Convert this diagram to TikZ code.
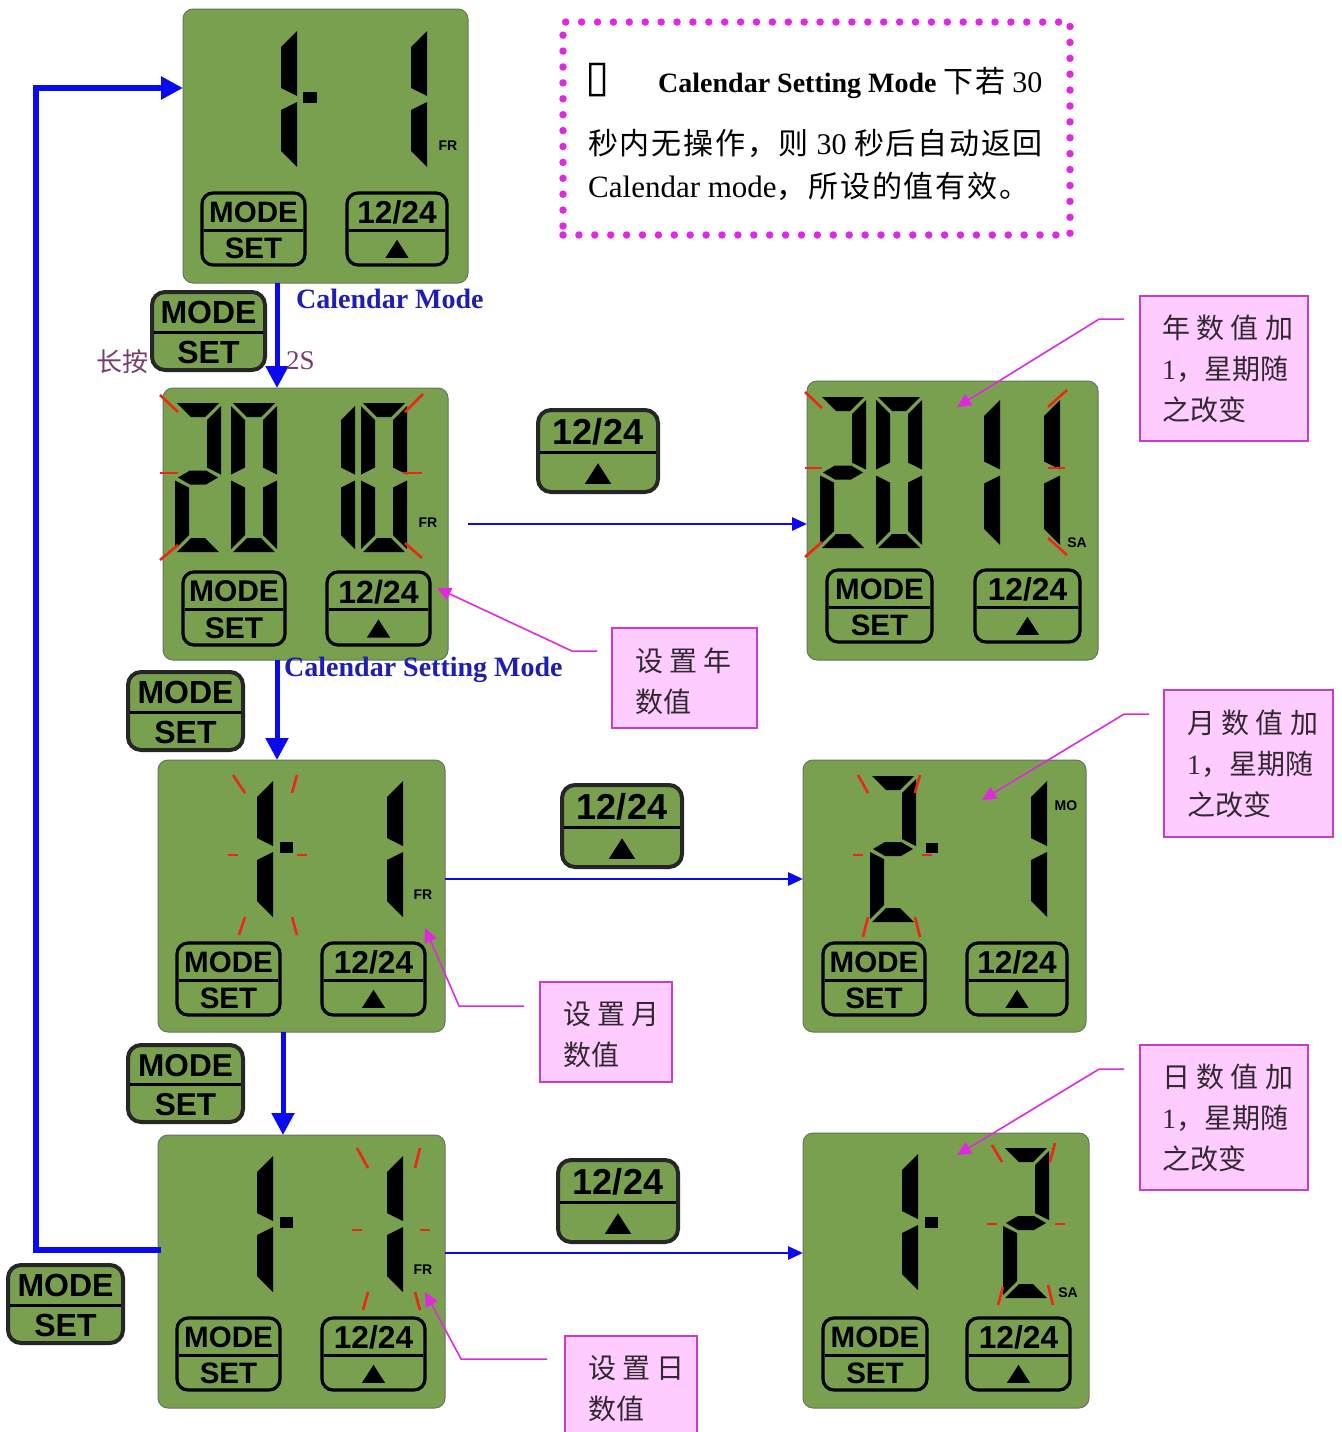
\documentclass[tikz,border=0pt]{standalone}
\usepackage{fontspec}
\setmainfont{Liberation Serif}
\newfontfamily\cjk{Noto Sans CJK SC}
\newfontfamily\cjkw[LetterSpace=6]{Noto Sans CJK SC}
\newfontfamily\lcdf{Liberation Sans}
\newfontfamily\symf{DejaVu Sans}
\usetikzlibrary{arrows.meta,calc}

\definecolor{lcd}{RGB}{121,160,78}
\definecolor{lcdedge}{RGB}{100,118,92}
\definecolor{arrowblue}{RGB}{10,10,240}
\definecolor{labelblue}{RGB}{30,30,180}
\definecolor{mag}{RGB}{225,40,225}
\definecolor{pinkfill}{RGB}{255,204,255}
\definecolor{pinkedge}{RGB}{200,60,200}
\definecolor{flash}{RGB}{235,40,20}
\definecolor{presscol}{RGB}{120,60,110}
\definecolor{calltxt}{RGB}{50,40,50}

\newcommand\fsz[1]{\fontsize{#1}{#1}\selectfont}
\newcommand\zh[1]{{\cjkw\fontsize{30}{30}\selectfont #1}}

% seven segment pieces (local coords, y downward)
\newcommand\sga{\fill (2,0) -- (\dW-2,0) -- (\dW-2-\dT,\dT) -- (2+\dT,\dT) -- cycle;}
\newcommand\sgb{\fill (\dW,3) -- (\dW,\dM-3) -- (\dW-\dT,\dM-3-\dT/2) -- (\dW-\dT,3+\dT) -- cycle;}
\newcommand\sgc{\fill (\dW,\dM+3) -- (\dW,\dH-3) -- (\dW-\dT,\dH-3-\dT) -- (\dW-\dT,\dM+3+\dT/2) -- cycle;}
\newcommand\sgd{\fill (\dW-2,\dH) -- (2,\dH) -- (2+\dT,\dH-\dT) -- (\dW-2-\dT,\dH-\dT) -- cycle;}
\newcommand\sge{\fill (0,\dM+3) -- (\dT,\dM+3+\dT/2) -- (\dT,\dH-3-\dT) -- (0,\dH-3) -- cycle;}
\newcommand\sgf{\fill (0,3) -- (\dT,3+\dT) -- (\dT,\dM-3-\dT/2) -- (0,\dM-3) -- cycle;}
\newcommand\sgg{\fill (3,\dM) -- (\dT+1,\dM-\dT/2) -- (\dW-\dT-1,\dM-\dT/2) -- (\dW-3,\dM) -- (\dW-\dT-1,\dM+\dT/2) -- (\dT+1,\dM+\dT/2) -- cycle;}
\def\dW{46}\def\dT{14}
\newcommand\lcddigit[4]{%
  \begin{scope}[shift={(#1,#2)}]
    \def\dH{#3}\pgfmathsetmacro\dM{#3/2}
    \foreach \s in {#4}{\csname sg\s\endcsname}
  \end{scope}}

\newcommand\modebtn[6]{%
  \pgfmathsetmacro\bw{#4-#2}\pgfmathsetmacro\bh{#5-#3}%
  \pgfmathsetmacro\bcx{(#2+#4)/2}\pgfmathsetmacro\bcy{(#3+#5)/2}%
  \pgfmathsetmacro\bfs{0.41*\bh}%
  \node[#6, minimum width=\bw pt, minimum height=\bh pt] (#1) at (\bcx,\bcy) {};
  \draw[btnrule] ([xshift=4pt,yshift=-1pt]#1.west) -- ([xshift=-4pt,yshift=-1pt]#1.east);
  \node[btntext, font=\lcdf\bfseries\fsz{\bfs}] (#1-up) at ($(#1.center)+(0,-0.235*\bh)$) {MODE};
  \node[btntext, font=\lcdf\bfseries\fsz{\bfs}] (#1-dn) at ($(#1.center)+(0,0.27*\bh)$) {SET};
}
\newcommand\hourbtn[6]{%
  \pgfmathsetmacro\bw{#4-#2}\pgfmathsetmacro\bh{#5-#3}%
  \pgfmathsetmacro\bcx{(#2+#4)/2}\pgfmathsetmacro\bcy{(#3+#5)/2}%
  \pgfmathsetmacro\bfs{0.44*\bh}%
  \node[#6, minimum width=\bw pt, minimum height=\bh pt] (#1) at (\bcx,\bcy) {};
  \draw[btnrule] ([xshift=4pt,yshift=-1pt]#1.west) -- ([xshift=-4pt,yshift=-1pt]#1.east);
  \node[btntext, font=\lcdf\bfseries\fsz{\bfs}] (#1-up) at ($(#1.center)+(0,-0.23*\bh)$) {12/24};
  \fill ($(#1.center)+(-0.16*\bh,0.40*\bh)$) -- ($(#1.center)+(0.16*\bh,0.40*\bh)$) -- ($(#1.center)+(0,0.15*\bh)$) -- cycle;
}

\begin{document}
\begin{tikzpicture}[x=1pt,y=-1pt,
  panel/.style={draw=lcdedge, line width=1pt, fill=lcd, rounded corners=10pt, inner sep=0pt, outer sep=0pt},
  inbtn/.style={draw=black, line width=3.2pt, rounded corners=11pt, inner sep=0pt},
  freebtn/.style={draw=black!85, fill=lcd, line width=4pt, rounded corners=13pt, inner sep=0pt},
  btnrule/.style={line width=3pt, black},
  btntext/.style={inner sep=0pt, text=black},
  daylbl/.style={inner sep=0pt, font=\lcdf\bfseries\fsz{14}},
  redmark/.style={draw=flash, line width=2.6pt},
  bluearrow/.style={draw=arrowblue, line width=5pt, -{Triangle[length=22pt,width=22pt]}},
  thinarrow/.style={draw=arrowblue, line width=2.8pt, -{Triangle[length=15pt,width=13pt]}},
  leader/.style={draw=mag, line width=1.6pt, -{Triangle[length=14pt,width=13pt]}},
  callout/.style={draw=pinkedge, line width=1.8pt, fill=pinkfill, inner sep=0pt},
  calltext/.style={inner sep=0pt, anchor=west, align=left, text=calltxt, font=\cjk\fontsize{28}{41}\selectfont},
  note/.style={draw=mag, line width=7.5pt, dash pattern=on 0pt off 15.9pt, line cap=round, inner sep=0pt},
  bluelbl/.style={inner sep=0pt, anchor=west, text=labelblue, font=\bfseries\fsz{28}}
]
\fill[white] (0,0) rectangle (1341,1432);
\useasboundingbox (0,0) rectangle (1341,1432);

% ---------- panels ----------
\node[panel, minimum width=285pt, minimum height=274pt] (p1) at (325.5,146) {};
\node[panel, minimum width=285pt, minimum height=272pt] (p2) at (305.5,524) {};
\node[panel, minimum width=291pt, minimum height=279pt] (p3) at (952.5,520.5) {};
\node[panel, minimum width=287pt, minimum height=272pt] (p4) at (301.5,896) {};
\node[panel, minimum width=283pt, minimum height=272pt] (p5) at (944.5,896) {};
\node[panel, minimum width=287pt, minimum height=273pt] (p6) at (301.5,1271.5) {};
\node[panel, minimum width=286pt, minimum height=275pt] (p7) at (946,1270.5) {};

% ---------- digits ----------
\def\dT{16}
\lcddigit{251}{28}{142}{b,c}
\lcddigit{381}{28}{142}{b,c}
\fill (303,92) rectangle (317,103);

\def\dT{14}
\lcddigit{175}{403}{149}{a,b,g,e,d}
\lcddigit{231}{403}{149}{a,b,c,d,e,f}
\lcddigit{309}{403}{149}{b,c}
\lcddigit{361}{403}{149}{a,b,c,d,e,f}

\lcddigit{820}{397}{151}{a,b,g,e,d}
\lcddigit{876}{397}{151}{a,b,c,d,e,f}
\def\dT{16}
\lcddigit{954}{397}{151}{b,c}
\lcddigit{1014}{397}{151}{b,c}

\lcddigit{227}{778}{142}{b,c}
\lcddigit{357}{778}{142}{b,c}
\fill (280,842) rectangle (293,853);

\def\dT{14}
\lcddigit{870}{776}{146}{a,b,g,e,d}
\def\dT{16}
\lcddigit{1001}{778}{142}{b,c}
\fill (926,843) rectangle (938,853);

\lcddigit{227}{1153}{142}{b,c}
\lcddigit{357}{1153}{142}{b,c}
\fill (280,1217) rectangle (293,1228);

\lcddigit{872}{1151}{142}{b,c}
\def\dT{14}
\lcddigit{1003}{1148}{150}{a,b,g,e,d}
\fill (925,1217) rectangle (938,1228);

% ---------- flashing marks ----------
\foreach \a/\b/\c/\d in {160/395/178/412, 160/473/178/473, 160/560/178/545, 405/412/423/394, 403/473/422/473, 405/543/422/558,
  805/392/822/408, 805/468/822/468, 805/557/822/542, 1048/407/1067/390, 1048/468/1065/468, 1048/538/1067/555,
  233/775/245/793, 297/775/292/793, 228/855/238/855, 297/855/307/855, 245/917/239/935, 292/917/297/935,
  858/775/868/793, 920/775/915/793, 853/855/863/855, 922/855/932/855, 868/917/863/937, 915/917/920/937,
  357/1148/368/1168, 420/1148/415/1168, 352/1230/362/1230, 420/1230/430/1230, 368/1292/363/1310, 415/1292/420/1310,
  992/1145/1002/1162, 1055/1143/1050/1162, 987/1224/997/1224, 1055/1224/1065/1224, 1003/1287/998/1305, 1048/1285/1053/1305}
  {\draw[redmark] (\a,\b) -- (\c,\d);}

% ---------- weekday labels ----------
\node[daylbl] (d1) at (448,146) {FR};
\node[daylbl] (d2) at (428,523) {FR};
\node[daylbl] (d3) at (1077,543) {SA};
\node[daylbl] (d4) at (423,895) {FR};
\node[daylbl] (d5) at (1066,806) {MO};
\node[daylbl] (d6) at (423,1270) {FR};
\node[daylbl] (d7) at (1068,1293) {SA};

% ---------- buttons in panels ----------
\modebtn{m1}{202}{193}{305}{265}{inbtn}
\hourbtn{h1}{347}{193}{447}{265}{inbtn}
\modebtn{m2}{183}{572}{285}{645}{inbtn}
\hourbtn{h2}{327}{572}{430}{645}{inbtn}
\modebtn{m3}{827}{570}{932}{642}{inbtn}
\hourbtn{h3}{975}{570}{1080}{642}{inbtn}
\modebtn{m4}{177}{943}{280}{1015}{inbtn}
\hourbtn{h4}{322}{943}{425}{1015}{inbtn}
\modebtn{m5}{823}{943}{925}{1015}{inbtn}
\hourbtn{h5}{967}{943}{1067}{1015}{inbtn}
\modebtn{m6}{177}{1318}{280}{1390}{inbtn}
\hourbtn{h6}{322}{1318}{425}{1390}{inbtn}
\modebtn{m7}{823}{1318}{927}{1390}{inbtn}
\hourbtn{h7}{967}{1318}{1070}{1390}{inbtn}

% ---------- free buttons ----------
\modebtn{s1}{152}{292}{265}{370}{freebtn}
\modebtn{s2}{128}{672}{243}{750}{freebtn}
\modebtn{s3}{128}{1045}{243}{1122}{freebtn}
\modebtn{s4}{8}{1265}{123}{1343}{freebtn}
\hourbtn{t1}{538}{410}{658}{492}{freebtn}
\hourbtn{t2}{562}{785}{682}{867}{freebtn}
\hourbtn{t3}{558}{1160}{678}{1242}{freebtn}

% ---------- blue arrows ----------
\coordinate (ax1) at (277,0);
\coordinate (ax3) at (283,0);
\draw[bluearrow] (ax1 |- p1.south) -- (ax1 |- p2.north);
\draw[bluearrow] (ax1 |- p2.south) -- (ax1 |- p4.north);
\draw[bluearrow] (ax3 |- p4.south) -- (ax3 |- p6.north);
\coordinate (fbA) at (36,1250);
\coordinate (fbB) at (36,88);
\draw[bluearrow, line width=6pt] ([xshift=3pt]p6.west |- fbA) -- (fbA) -- (fbB) -- (p1.west |- fbB);
\coordinate (hy1) at (0,524);
\coordinate (hy2) at (0,879);
\coordinate (hy3) at (0,1253);
\draw[thinarrow] ([xshift=20pt]p2.east |- hy1) -- (p3.west |- hy1);
\draw[thinarrow] (p4.east |- hy2) -- (p5.west |- hy2);
\draw[thinarrow] (p6.east |- hy3) -- (p7.west |- hy3);

% ---------- labels ----------
\node[bluelbl] (lblCM) at (296,299) {Calendar Mode};
\node[bluelbl] (lblCSM) at (284,670) {Calendar Setting Mode};
\node[inner sep=0pt, anchor=east, text=presscol, font=\cjk\fsz{26}] (press) at (149,362) {长按};
\node[inner sep=0pt, anchor=west, text=presscol, font=\fsz{27}] (twos) at (286,361) {2S};

% ---------- note ----------
\node[note, minimum width=507pt, minimum height=213pt] (note) at (816.5,128.5) {};
\node[inner sep=0pt, font=\symf\fsz{44}] (bul) at (598,80) {▯};
\node[inner sep=0pt, anchor=base west, font=\fsz{28}] (n1) at (658,92) {\bfseries Calendar Setting Mode \mdseries\zh{下若} {\fsz{30}30}};
\node[inner sep=0pt, anchor=base west, font=\fsz{30}] (n2) at (588,154) {\zh{秒内无操作，则} 30 \zh{秒后自动返回}};
\node[inner sep=0pt, anchor=base west, font=\fsz{31}] (n3) at (588,197) {Calendar mode\zh{，所设的值有效。}};

% ---------- callouts ----------
\node[callout, minimum width=168pt, minimum height=145pt] (cA) at (1224,368.5) {};
\node[calltext] (cAt) at (1162,369) {年 数 值 加\\{\rmfamily 1}，星期随\\之改变};
\node[callout, minimum width=145pt, minimum height=100pt] (cB) at (684.5,678) {};
\node[calltext] (cBt) at (635,681) {设 置 年\\数值};
\node[callout, minimum width=169pt, minimum height=147pt] (cC) at (1248.5,763.5) {};
\node[calltext] (cCt) at (1187,764) {月 数 值 加\\{\rmfamily 1}，星期随\\之改变};
\node[callout, minimum width=132pt, minimum height=100pt] (cD) at (606,1032) {};
\node[calltext] (cDt) at (563,1035) {设 置 月\\数值};
\node[callout, minimum width=168pt, minimum height=145pt] (cE) at (1224,1117.5) {};
\node[calltext] (cEt) at (1162,1118) {日 数 值 加\\{\rmfamily 1}，星期随\\之改变};
\node[callout, minimum width=132pt, minimum height=106pt] (cF) at (631,1389) {};
\node[calltext] (cFt) at (588,1389) {设 置 日\\数值};

\coordinate (tipA) at (957,407);
\coordinate (tipB) at (437,588);
\coordinate (tipC) at (982,800);
\coordinate (tipD) at (425,928);
\coordinate (tipE) at (957,1155);
\coordinate (tipF) at (425,1292);
\draw[leader] ($(cA.north west)+(-15,24)$) -- ++(-25,0) -- (tipA);
\draw[leader] ($(cB.north west)+(-14,24)$) -- ++(-25,0) -- (tipB);
\draw[leader] ($(cC.north west)+(-14,25)$) -- ++(-25,0) -- (tipC);
\draw[leader] ($(cD.north west)+(-15,25)$) -- ++(-65,0) -- (tipD);
\draw[leader] ($(cE.north west)+(-15,25)$) -- ++(-25,0) -- (tipE);
\draw[leader] ($(cF.north west)+(-17,24)$) -- ++(-86,0) -- (tipF);
\end{tikzpicture}
\end{document}
